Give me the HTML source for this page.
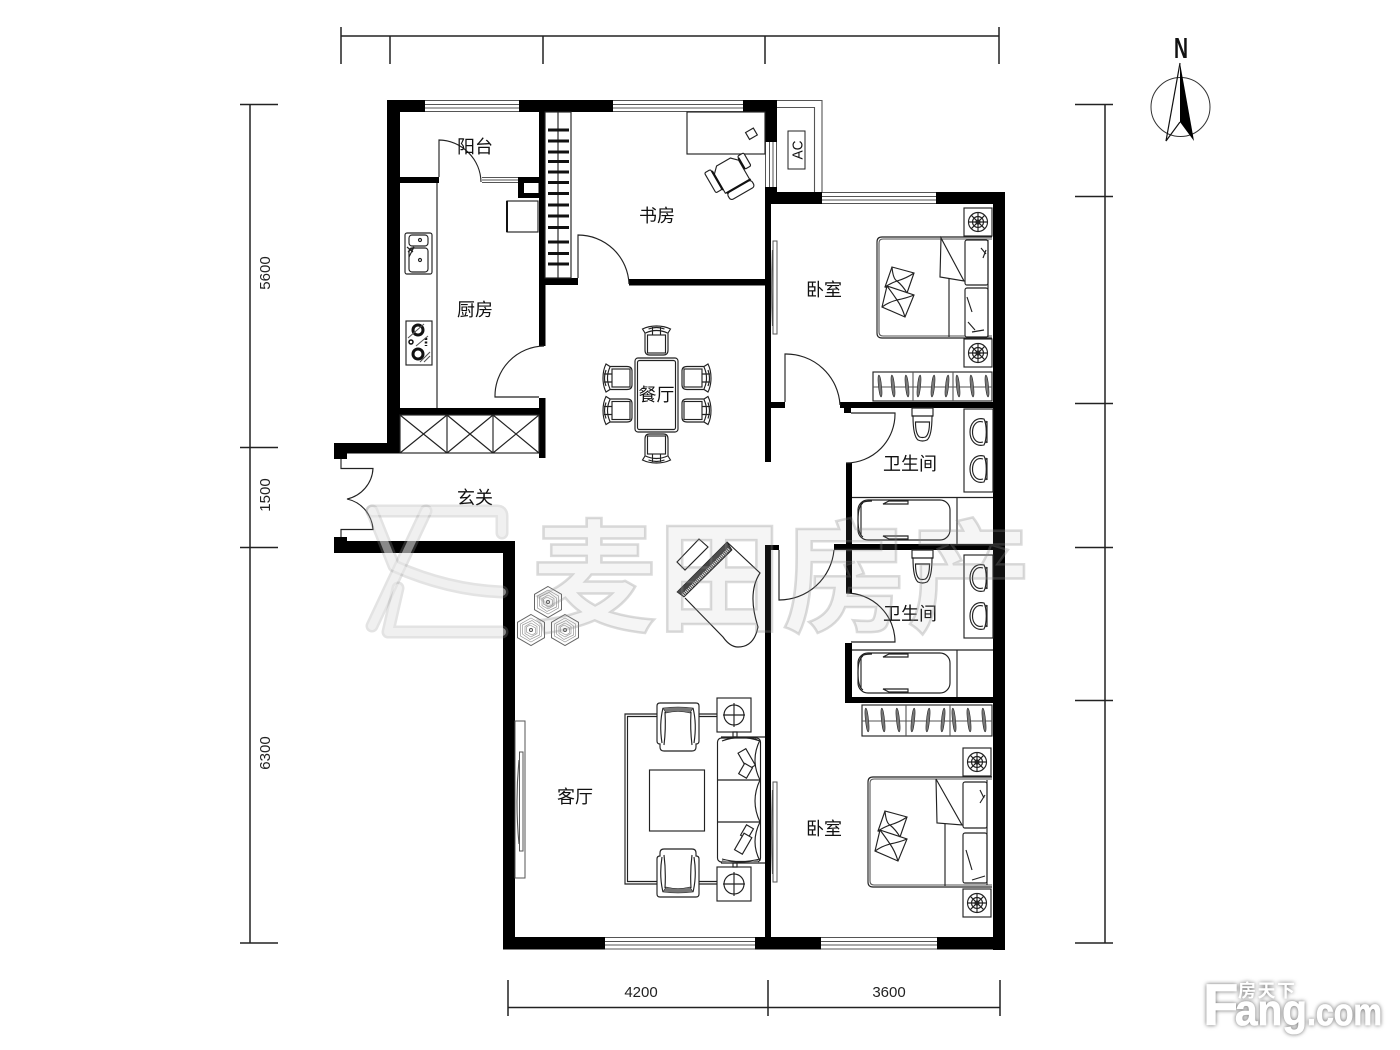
<!DOCTYPE html>
<html lang="zh"><head><meta charset="utf-8"><title>户型图</title>
<style>
html,body{margin:0;padding:0;background:#fff;width:1400px;height:1050px;overflow:hidden}
svg{display:block}
.l{font-family:"Liberation Sans","Noto Sans CJK SC",sans-serif;font-size:18px;fill:#111;text-anchor:middle}
.d{font-family:"Liberation Sans",sans-serif;font-size:15px;fill:#222;text-anchor:middle}
.t{fill:none;stroke:#222;stroke-width:1.15}
.g{fill:none;stroke:#555;stroke-width:1.1}
.w{fill:#fff;stroke:#222;stroke-width:1.15}
</style></head><body>
<svg width="1400" height="1050" viewBox="0 0 1400 1050" xmlns="http://www.w3.org/2000/svg">
<defs>
<g id="stand"><rect x="-14" y="-14" width="28" height="28" class="w"/><circle r="9.5" class="t"/><circle r="5.5" class="t"/><circle r="2" class="t"/><path d="M-9.5 0H9.5M0 -9.5V9.5M-6.7 -6.7L6.7 6.7M6.7 -6.7L-6.7 6.7" class="t"/></g>
<g id="dchair"><path d="M-14 -13 Q-8 -16 0 -16 Q8 -16 14 -13 L11.500 -9 L11.500 8 Q11.500 13 7 13 H-7 Q-11.500 13 -11.500 8 V-9Z" class="w"/><rect x="-9" y="-7" width="18" height="18" class="w"/><path d="M-11 -9 Q0 -14 11 -9 M-4 -15V-7 M4 -15V-7 M-8 -13 Q0 -16 8 -13" class="t"/></g>
<g id="basin"><path d="M5 -13 C-4 -15 -9 -8 -9 0 C-9 8 -4 15 5 13 C8 7 8 -7 5 -13Z" class="w"/><path d="M4 -10 C-3 -12 -6.500 -6 -6.500 0 C-6.500 6 -3 12 4 10" class="t"/><path d="M8 -11V11" class="t"/><circle cx="7" cy="-10" r="1.200" fill="#333"/><circle cx="7" cy="10" r="1.200" fill="#333"/></g>
<g id="toilet"><path d="M0 0H21V8H20 Q20 28 15 32 Q10.500 34 6 32 Q1 28 1 8H0Z" class="w"/><path d="M3.500 14 H17.500 Q17.500 26 13.500 29 Q10.500 30 7.500 29 Q3.500 26 3.500 14Z" class="t"/><path d="M0 8H21" class="t"/></g>
<g id="tub"><rect x="0" y="0" width="92" height="40" rx="10" class="w"/><path d="M5 37 Q0 34 0 20 Q0 6 5 3" class="t"/><path d="M3 35 Q3 20 3 5 Q3 1 14 1" class="t"/><path d="M25 4 L31 1 H50 V4Z M25 36 L31 39 H50 V36Z" class="w"/></g>
<g id="pillows"><path d="M-7 -25 L15 -19 L8 1 L-14 -5Z" class="w"/><path d="M-12 -6 L15 3 L6 25 L-17 15Z" class="w"/><path d="M-7 -25 Q-6 -13 -2 -11 Q8 -14 15 -19 M-2 -11 Q4 -6 8 1 M-2 -11 Q-8 -9 -14 -5 M-12 -6 Q-6 2 -2 8 Q8 6 15 3 M-2 8 Q3 15 6 25 M-2 8 Q-10 10 -17 15" class="t"/></g>
<g id="hex"><path d="M0 -15.500 L13.500 -7.700 V7.700 L0 15.500 L-13.500 7.700 V-7.700Z" fill="#fff" stroke="#666"/><path d="M0 -12 L10.500 -6 V6 L0 12 L-10.500 6 V-6Z M1 -9.500 L8.500 -4 V5 L-1 9.500 L-8.500 4 V-5Z M0 -7 L6 -3.500 V3.500 L0 7 L-6 3.500 V-3.500Z M-1 -5 L4.500 -2 V3 L1 5 L-4.500 2 V-3Z" fill="none" stroke="#999" stroke-width=".7"/><circle r="1.500" fill="none" stroke="#555"/></g>
<g id="arm"><path d="M-18 -24 H18 Q21 -24 21 -21 V14 Q21 17 18 17 V20 Q18 24 14 24 H-14 Q-18 24 -18 20 V17 Q-21 17 -21 14 V-21 Q-21 -24 -18 -24Z" class="w"/><path d="M-15 -19 Q0 -21 15 -19 L12 -14 Q0 -17 -12 -14Z" fill="#777" stroke="#222" stroke-width=".6"/><path d="M-15 -19 Q-19 -3 -16 16 M15 -19 Q19 -3 16 16 M-13 -15 Q-12 2 -14 18 M13 -15 Q12 2 14 18" class="t"/></g>
<g id="crosshair"><rect x="-17" y="-17" width="34" height="34" class="w"/><circle r="10" class="t"/><path d="M-11 0H11M0 -12V12" class="t"/></g>
</defs>

<!-- dimensions -->
<g stroke="#222" stroke-width="1.500" fill="none">
<path d="M341 36H999 M341 27V64 M390 36V64 M543 36V64 M765 36V64 M999 27V64"/>
<path d="M250 104.500V943 M240 104.500H278 M240 447.500H278 M240 547.500H278 M240 943H278"/>
<path d="M1105 104.500V943 M1075 104.500H1113 M1075 196.500H1113 M1075 403.500H1113 M1075 547.500H1113 M1075 700.500H1113 M1075 943H1113"/>
<path d="M508 1007.500H1000 M508 980V1016 M768 980V1016 M1000 980V1016"/>
</g>
<text class="d" transform="translate(270,273) rotate(-90)">5600</text>
<text class="d" transform="translate(270,495) rotate(-90)">1500</text>
<text class="d" transform="translate(270,753) rotate(-90)">6300</text>
<text class="d" x="641" y="997">4200</text>
<text class="d" x="889" y="997">3600</text>

<!-- north -->
<text x="1181" y="58" font-family="Liberation Sans,sans-serif" font-size="29" font-weight="bold" text-anchor="middle" fill="#111" textLength="14" lengthAdjust="spacingAndGlyphs">N</text>
<circle cx="1180.500" cy="107" r="29.500" fill="none" stroke="#333" stroke-width="1"/>
<path d="M1180 63 L1166 141 L1180 122" fill="none" stroke="#111" stroke-width="1.200"/>
<path d="M1180 63 L1194 141 L1180 122Z" fill="#000"/>

<!-- balcony AC -->
<path d="M777 100.500H822V192 M777 107.500H814.500V192" class="g" fill="none"/>
<rect x="788" y="131" width="17" height="38" fill="#fff" stroke="#222"/>
<text transform="translate(802.500,150) rotate(-90)" font-family="Liberation Sans,sans-serif" font-size="15" text-anchor="middle" fill="#111" textLength="19" lengthAdjust="spacingAndGlyphs">AC</text>

<!-- windows -->
<g fill="#fff" stroke="#555" stroke-width="1">
<path d="M425 100.500H519M425 104.500H519M425 108H519M425 111.500H519"/>
<path d="M613 100.500H743M613 104.500H743M613 108H743M613 111.500H743"/>
<path d="M822 192.500H936M822 196.500H936M822 200H936M822 203.500H936"/>
<path d="M605 937.500H755M605 941.500H755M605 945H755M605 949H755"/>
<path d="M821 937.500H937M821 941.500H937M821 945H937M821 949H937"/>
<path d="M765.500 142V187M769.500 142V187M773 142V187M776.500 142V187"/>
<path d="M482 177.500H518M482 180H518M482 182.500H518"/>
</g>

<!-- walls -->
<g fill="#000">
<rect x="387" y="100" width="38" height="12"/><rect x="519" y="100" width="94" height="12"/><rect x="743" y="100" width="34" height="12"/>
<rect x="387" y="100" width="13" height="353"/>
<rect x="334" y="443" width="66" height="10.500"/><rect x="334" y="443" width="13" height="16"/>
<rect x="334" y="537" width="13" height="16"/><rect x="334" y="541" width="181" height="12"/>
<rect x="503" y="541" width="12" height="408"/>
<rect x="503" y="937" width="102" height="12.500"/><rect x="755" y="937" width="66" height="12.500"/><rect x="937" y="937" width="68" height="12.500"/>
<rect x="993" y="192" width="12" height="758"/>
<rect x="765" y="192" width="57" height="12"/><rect x="936" y="192" width="69" height="12"/>
<rect x="765" y="100" width="12" height="42"/><rect x="765" y="187" width="12" height="17"/>
<rect x="765" y="187" width="6" height="275"/>
<rect x="539" y="112" width="6.500" height="234"/><rect x="539" y="398" width="6.500" height="60"/>
<rect x="545" y="278" width="33" height="7"/><rect x="629" y="279" width="136" height="6.500"/>
<rect x="400" y="177" width="39" height="6"/>
<path d="M518 177H539V198H518Z M524 183V193H538.500V183Z" fill-rule="evenodd"/>
<rect x="400" y="408" width="139" height="7"/>
<rect x="771" y="402" width="14" height="6"/><rect x="840" y="402" width="153" height="6"/><rect x="844" y="408" width="7" height="5"/>
<rect x="846" y="463" width="6" height="130"/><rect x="834" y="544" width="159" height="6"/>
<rect x="765" y="545" width="6" height="392"/><rect x="765" y="545" width="14" height="5"/>
<rect x="845" y="643" width="7" height="60"/><rect x="845" y="697" width="148" height="6"/>
</g>

<!-- wardrobe study -->
<rect x="545" y="112" width="26" height="166" class="t"/>
<path d="M558 112V278" class="t"/>
<g stroke="#111" stroke-width="3" fill="none">
<path d="M548 130H569M548 141H569M548 152H569M548 161.500H569M548 172H569M548 182.500H569M548 193.500H569M548 205H569M548 216H569M548 227.500H569M548 242H569M548 253.500H569M548 264H569"/>
</g>

<!-- doors -->
<g class="t">
<path d="M439 177V140 A43 43 0 0 1 481 182"/>
<path d="M578 278V235 A51 51 0 0 1 629 284"/>
<path d="M544 346 A50 50 0 0 0 495 397 H539"/>
<path d="M785 402V354 A54 54 0 0 1 840 405"/>
<path d="M851 413H895 A49 49 0 0 1 846 463"/>
<path d="M779 550V600 A55 55 0 0 0 834 550"/>
<path d="M846 593 A49 49 0 0 1 895 642 H851"/>
<path d="M341 459V468.500H373 A33 33 0 0 1 347 499 A33 33 0 0 1 373 529.500H341V537"/>
</g>

<!-- kitchen -->
<path d="M437 183V408" class="t"/>
<rect x="507" y="201" width="31" height="31" class="w"/><path d="M507 201V232" stroke="#111" stroke-width="2"/>
<rect x="405" y="233" width="27" height="41" rx="2" class="w"/>
<rect x="409" y="235" width="19" height="11" rx="3" class="t"/><rect x="409" y="248" width="19" height="24" rx="3" class="t"/>
<circle cx="420" cy="240" r="1.500" class="t"/><circle cx="420" cy="260" r="1.500" class="t"/>
<path d="M407 247 L413 252 M408 252 L414 247 L409 257" class="t"/>
<rect x="406" y="321" width="26" height="44" class="w"/>
<circle cx="418" cy="330" r="5" fill="none" stroke="#111" stroke-width="3"/>
<circle cx="418" cy="354" r="5" fill="none" stroke="#111" stroke-width="3"/>
<circle cx="411" cy="342" r="2" fill="none" stroke="#111" stroke-width="1.500"/>
<path d="M426 338V346" stroke="#111" stroke-width="2.500" stroke-dasharray="2 1.500"/>
<path d="M424 324 L408 338 M430 352 L420 362 M430 356 L424 362 M416 346 L428 336" class="g"/>

<!-- storage -->
<rect x="400" y="415" width="139" height="38" class="t"/>
<path d="M447 415V453M493 415V453M400 415L447 453M447 415L400 453M447 415L493 453M493 415L447 453M493 415L539 453M539 415L493 453" class="t"/>

<!-- study desk -->
<rect x="687" y="112" width="78" height="42" class="t" fill="#fff"/>
<rect x="747" y="130" width="9" height="8" transform="rotate(-30 751 134)" class="t"/>
<g transform="translate(731,175) rotate(-30)">
<path d="M-14 -9 L-8 -15 H8 L14 -9 V13 H-14Z" class="w"/>
<rect x="-22" y="-15" width="7" height="23" rx="1.500" class="w"/>
<rect x="15" y="-13" width="7" height="15" rx="1.500" class="w"/>
<rect x="-13" y="14" width="28" height="8" rx="3" class="w"/>
<path d="M-14.500 -13V9 M15 -11V2 M-13 13.500H15" stroke="#111" stroke-width="2" fill="none"/>
</g>

<!-- dining -->
<use href="#dchair" x="656.500" y="342"/>
<use href="#dchair" transform="translate(656.500,447) rotate(180)"/>
<use href="#dchair" transform="translate(619,378) rotate(-90)"/>
<use href="#dchair" transform="translate(619,410.500) rotate(-90)"/>
<use href="#dchair" transform="translate(695,378) rotate(90)"/>
<use href="#dchair" transform="translate(695,410.500) rotate(90)"/>
<rect x="635" y="358" width="43" height="74" rx="3" class="w"/>
<rect x="637.500" y="360.500" width="38" height="69" rx="2" class="t"/>

<!-- bedroom 1 -->
<rect x="773" y="241" width="4" height="93" fill="#fff" stroke="#555"/>
<path d="M772.500 250 Q771 288 772.500 326" class="g"/>
<use href="#stand" x="978" y="222"/><use href="#stand" x="978" y="353"/>
<path d="M992 237 H882 Q877 237 877 242 V333 Q877 338 882 338 H992" class="t"/>
<path d="M992 239 H883 Q879 239 879 243 V332 Q879 336 883 336 H992" class="g"/>
<path d="M949 277V337" class="t"/>
<path d="M941 238 L940 277 L964 281Z" class="w"/>
<rect x="965" y="240" width="23" height="45" rx="2" class="w"/><rect x="965" y="288" width="23" height="49" rx="2" class="w"/>
<path d="M988 240V337" class="t"/>
<path d="M981 248 L986 254 M983 258 L986 250 M968 322 L975 330 M972 332 L984 330 M967 297 L972 312" class="t"/>
<use href="#pillows" x="899" y="292"/>
<g>
<rect x="873" y="372" width="119" height="29" class="t"/>
<path d="M913 372V401M953 372V401M873 387H992" class="g"/>
<g fill="#777" stroke="#222" stroke-width=".5">
<ellipse cx="880" cy="386" rx="1.600" ry="11" transform="rotate(-6 880 386)"/><ellipse cx="893" cy="386" rx="1.600" ry="11" transform="rotate(-6 893 386)"/><ellipse cx="907" cy="386" rx="1.600" ry="11" transform="rotate(-6 907 386)"/>
<ellipse cx="919" cy="386" rx="1.600" ry="11" transform="rotate(6 919 386)"/><ellipse cx="933" cy="386" rx="1.600" ry="11" transform="rotate(6 933 386)"/><ellipse cx="947" cy="386" rx="1.600" ry="11" transform="rotate(6 947 386)"/>
<ellipse cx="958" cy="386" rx="1.600" ry="11" transform="rotate(-6 958 386)"/><ellipse cx="972" cy="386" rx="1.600" ry="11" transform="rotate(-6 972 386)"/><ellipse cx="987" cy="386" rx="1.600" ry="11" transform="rotate(-6 987 386)"/>
</g></g>

<!-- bath 1 -->
<use href="#toilet" x="912" y="408"/>
<rect x="964" y="409" width="29" height="83" class="t"/>
<use href="#basin" x="979" y="432"/><use href="#basin" x="979" y="469"/>
<path d="M852 497.500H993M957 497.500V544" class="t"/>
<use href="#tub" x="858" y="500"/>

<!-- bath 2 -->
<use href="#toilet" x="912" y="550"/>
<rect x="964" y="555" width="29" height="83" class="t"/>
<use href="#basin" x="979" y="578"/><use href="#basin" x="979" y="616"/>
<path d="M852 650H993M957 650V697" class="t"/>
<use href="#tub" x="858" y="653"/>

<!-- bedroom 2 -->
<rect x="862" y="705" width="130" height="31" class="t"/>
<path d="M906 705V736M950 705V736M862 721H992" class="g"/>
<g fill="#777" stroke="#222" stroke-width=".5">
<ellipse cx="867" cy="720" rx="1.600" ry="12" transform="rotate(-6 867 720)"/><ellipse cx="883" cy="720" rx="1.600" ry="12" transform="rotate(-6 883 720)"/><ellipse cx="898" cy="720" rx="1.600" ry="12" transform="rotate(-6 898 720)"/>
<ellipse cx="913" cy="720" rx="1.600" ry="12" transform="rotate(6 913 720)"/><ellipse cx="928" cy="720" rx="1.600" ry="12" transform="rotate(6 928 720)"/><ellipse cx="943" cy="720" rx="1.600" ry="12" transform="rotate(6 943 720)"/>
<ellipse cx="954" cy="720" rx="1.600" ry="12" transform="rotate(-6 954 720)"/><ellipse cx="969" cy="720" rx="1.600" ry="12" transform="rotate(-6 969 720)"/><ellipse cx="984" cy="720" rx="1.600" ry="12" transform="rotate(-6 984 720)"/>
</g>
<use href="#stand" x="977" y="762"/><use href="#stand" x="977" y="903"/>
<path d="M992 777 H873 Q868 777 868 782 V882 Q868 887 873 887 H992" class="t"/>
<path d="M992 779 H874 Q870 779 870 783 V881 Q870 885 874 885 H992" class="g"/>
<path d="M945 824V886" class="t"/>
<path d="M936 779 L937 823 L962 825Z" class="w"/>
<rect x="963" y="782" width="24" height="46" rx="2" class="w"/><rect x="963" y="833" width="24" height="50" rx="2" class="w"/>
<path d="M987 780V885" class="t"/>
<path d="M980 790 L984 798 M980 803 L985 795 M966 850 L972 870 M972 880 L985 876" class="t"/>
<use href="#pillows" x="892" y="836"/>
<rect x="773" y="782" width="4" height="100" fill="#fff" stroke="#555"/>
<path d="M772.500 790 Q771 832 772.500 874" class="g"/>

<!-- living -->
<rect x="515" y="721" width="10" height="157" fill="#fff" stroke="#555"/>
<rect x="519.500" y="752" width="3.500" height="99" fill="#fff" stroke="#555"/>
<path d="M519 760 Q515 802 519 844" class="g"/>
<path d="M717 714H625V884H717 M717 716.500H627.500V881.500H717" class="t"/>
<rect x="649.500" y="770" width="55" height="61" class="w"/>
<use href="#arm" x="678" y="727"/>
<use href="#arm" transform="translate(678,873) scale(1,-1)"/>
<use href="#crosshair" x="734" y="715"/><use href="#crosshair" x="734" y="884"/>
<path d="M733 732H737V737H733Z M733 863H737V867H733Z" class="w"/>
<path d="M721 737 H765 M721 863 H765" class="t"/>
<rect x="717.500" y="738" width="43" height="124" rx="4" class="w"/>
<path d="M718 780H760M718 822H760" class="t"/>
<path d="M722 741 Q740 734 760 741 L755 739 M722 859 Q740 864 760 859" class="t"/>
<path d="M760 740 Q750 760 760 780 Q750 801 760 822 Q750 842 760 861" class="t"/>
<path d="M722 860 Q740 866 758 860 L758 863 H722Z" fill="#777"/>
<rect x="742" y="750" width="9" height="19" transform="rotate(-30 746 759)" class="w"/>
<rect x="741" y="765" width="9" height="12" transform="rotate(30 746 771)" class="w"/>
<rect x="743" y="826" width="8" height="12" transform="rotate(30 747 832)" class="w"/>
<rect x="739" y="834" width="9" height="19" transform="rotate(30 743 843)" class="w"/>

<!-- piano & plant -->
<path d="M727 542 L760 573 Q747 593 758 627 Q754 647 738 647 Q730 647 723 637 L685 598" class="w"/>
<path d="M677 562 L699 539 L708 547 L685 570Z" class="w"/>
<path d="M677 592 L727 542 L732 550 L684 597Z" fill="#444" stroke="#222" stroke-width=".8"/>
<path d="M683 595 L729 549" stroke="#eee" stroke-width="3" stroke-dasharray="1 1" fill="none"/>
<use href="#hex" x="548" y="602"/><use href="#hex" x="531" y="630"/><use href="#hex" x="565" y="630"/>

<!-- labels -->
<text class="l" x="475" y="153">阳台</text>
<text class="l" x="657" y="222">书房</text>
<text class="l" x="824" y="296">卧室</text>
<text class="l" x="475" y="316">厨房</text>
<text class="l" x="656.500" y="401">餐厅</text>
<text class="l" x="910" y="470">卫生间</text>
<text class="l" x="475" y="504">玄关</text>
<text class="l" x="910" y="620">卫生间</text>
<text class="l" x="575" y="803">客厅</text>
<text class="l" x="824" y="835">卧室</text>

<!-- watermark -->
<g fill="none" stroke-linejoin="round" stroke-linecap="round">
<g stroke="#999" stroke-opacity=".27" stroke-width="13">
<path d="M372 511H497Q502 511 502 516V533"/>
<path d="M372 511 L394 566 Q448 590 502 592"/>
<path d="M426 511 L372 626"/>
<path d="M398 588 L388 632 H502"/>
</g>
<g stroke="#fff" stroke-opacity=".45" stroke-width="8">
<path d="M372 511H497Q502 511 502 516V533"/>
<path d="M372 511 L394 566 Q448 590 502 592"/>
<path d="M426 511 L372 626"/>
<path d="M398 588 L388 632 H502"/>
</g>
</g>
<text x="532" y="622" font-family="'Noto Sans CJK SC',sans-serif" font-size="122" font-weight="700" fill="#999" fill-opacity=".1" stroke="#888" stroke-opacity=".3" stroke-width="2.500" textLength="500" lengthAdjust="spacingAndGlyphs">麦田房产</text>

<!-- Fang.com -->
<g style="filter:drop-shadow(0 0 2px #666)" fill="#fff" stroke="#fff" stroke-width=".8" font-family="Liberation Sans,sans-serif" font-weight="bold">
<text x="1203" y="1025" font-size="58">F</text>
<text x="1235" y="1025" font-size="44" textLength="72" lengthAdjust="spacingAndGlyphs">ang</text>
<text x="1307" y="1025" font-size="38" textLength="75" lengthAdjust="spacingAndGlyphs">.com</text>
<text x="1238" y="997" font-family="'Noto Sans CJK SC',sans-serif" font-size="18" textLength="57" stroke-width="0">房天下</text>
</g>
</svg>
</body></html>
